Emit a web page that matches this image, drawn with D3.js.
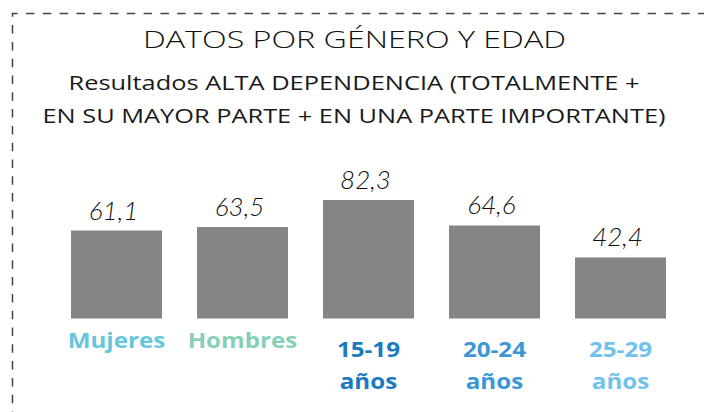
<!DOCTYPE html>
<html>
<head>
<meta charset="utf-8">
<script src="https://cdn.jsdelivr.net/npm/d3@7"></script>
<style>
html,body{margin:0;padding:0;background:#fff;}
svg{display:block;}
</style>
</head>
<body>
<svg id="chart" width="704" height="412"></svg>
<script>
const categories = ["Mujeres", "Hombres", "15-19 años", "20-24 años", "25-29 años"];
const values = [61.1, 63.5, 82.3, 64.6, 42.4];
const labelColors = ["#67c5dc", "#88cfba", "#1a7abf", "#3c97d5", "#70c1ec"];
const titleText = "DATOS POR GÉNERO Y EDAD";
const subtitleLines = ["Resultados ALTA DEPENDENCIA (TOTALMENTE +", "EN SU MAYOR PARTE + EN UNA PARTE IMPORTANTE)"];

const svg = d3.select("#chart");
const headFont = "'Open Sans', Lato, sans-serif";
const valFont = "Lato, 'Open Sans', sans-serif";
const catFont = "'Open Sans', Lato, sans-serif";

// dashed frame
svg.append("path")
  .attr("d", "M12.5,420 L12.5,13.5 L720,13.5")
  .attr("fill", "none")
  .attr("stroke", "#444")
  .attr("stroke-width", 1.5)
  .attr("stroke-dasharray", "8.5,8.3");

// titles (stretched to the reference widths)
svg.append("text")
  .attr("x", 354.5).attr("y", 48)
  .attr("text-anchor", "middle")
  .attr("font-family", headFont)
  .attr("font-weight", 350)
  .attr("font-size", 24)
  .attr("fill", "#111")
  .attr("textLength", 423)
  .attr("lengthAdjust", "spacingAndGlyphs")
  .text(titleText);

const subWidths = [571, 623];
svg.selectAll("text.sub").data(subtitleLines).join("text")
  .attr("class", "sub")
  .attr("x", 354)
  .attr("y", (d, i) => 90 + i * 33)
  .attr("text-anchor", "middle")
  .attr("font-family", headFont)
  .attr("font-weight", 400)
  .attr("font-size", 20)
  .attr("fill", "#1a1a1a")
  .attr("textLength", (d, i) => subWidths[i])
  .attr("lengthAdjust", "spacingAndGlyphs")
  .text(d => d);

// scales
const x = d3.scaleBand().domain(categories).range([71, 666]).paddingInner(0.278).paddingOuter(0);
const y = d3.scaleLinear().domain([0, 100]).range([318.5, 174.5]);

svg.selectAll("rect.bar").data(values).join("rect")
  .attr("class", "bar")
  .attr("x", (d, i) => x(categories[i]))
  .attr("width", x.bandwidth())
  .attr("y", d => y(d))
  .attr("height", d => y(0) - y(d))
  .attr("fill", "#858585");

svg.selectAll("text.val").data(values).join("text")
  .attr("class", "val")
  .attr("x", (d, i) => x(categories[i]) + x.bandwidth() / 2 - 3)
  .attr("y", d => y(d) - 11)
  .attr("text-anchor", "middle")
  .attr("font-family", valFont)
  .attr("font-style", "italic")
  .attr("font-weight", 300)
  .attr("font-size", 26)
  .attr("fill", "#111")
  .text(d => d3.format(".1f")(d).replace(".", ","));

// category labels
const stretch = 1.15;
const xAxis = svg.append("g");
categories.forEach((c, i) => {
  const parts = c.split(" ");
  const cx = x(c) + x.bandwidth() / 2;
  parts.forEach((p, j) => {
    const t = xAxis.append("text")
      .attr("x", cx)
      .attr("y", parts.length > 1 ? 357 + j * 31.5 : 348)
      .attr("text-anchor", "middle")
      .attr("font-family", catFont)
      .attr("font-weight", 700)
      .attr("font-size", 21)
      .attr("fill", labelColors[i])
      .text(p);
    const w = t.node().getComputedTextLength();
    t.attr("textLength", w * stretch).attr("lengthAdjust", "spacingAndGlyphs");
  });
});
</script>
</body>
</html>
